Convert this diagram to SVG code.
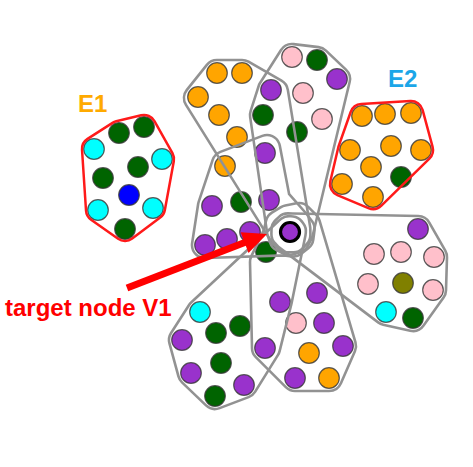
<svg xmlns="http://www.w3.org/2000/svg" width="473" height="467" viewBox="0 0 473 467">
<style>
.n{stroke:#333;stroke-opacity:.8;stroke-width:1.2}
.o{fill:#FFA500}.g{fill:#006400}.p{fill:#9932CC}.k{fill:#FFC0CB}.c{fill:#00FFFF}.b{fill:#0000FF}.l{fill:#808000}
.mo{fill:#fff;stroke:#fff;stroke-linejoin:round}
.mi{fill:#000;stroke:#000;stroke-linejoin:round}
.hg{fill:#929292}
.hr{fill:#ff1a1a}
.lbl{font-family:"Liberation Sans",Arial,sans-serif;font-weight:bold}
</style>
<defs>
<polygon id="pH1" points="217,73 242,73 275,92 297.3,228.8 297.4,234.9 293.2,239.3 287.1,239.4 282.7,235.2 197,98"/>
<polygon id="pH2" points="292,57 317,60 337,79 300,232.7 296.5,239.6 289.3,242 282.4,238.5 280,231.3 263,115 271,90"/>
<polygon id="pH3" points="225,164 267,148 277,200 296,221.6 301.6,228.9 300.4,238 293.1,243.6 284,242.4 205,245 211,206"/>
<polygon id="pH4" points="200,312 287.4,230.5 289.2,229.1 291.5,229.4 292.9,231.2 292.6,233.5 279,300 267,348 244,385 215,396 191,373 182,340"/>
<polygon id="pH6" points="307,224 343,346 329,378 295,378 265,348 263,262 276.2,234.2 278.7,223.8 287.8,218.2 299,216"/>
<polygon id="pH7" points="292.4,226.5 418,229 434,257 433,290 413,318 386,312 287.6,237.5 284.4,234.2 284.5,229.6 287.8,226.4"/>
<polygon id="pE1" points="144,127 162,159 153,208 125,229 98,210 94,149 119,133"/>
<polygon id="pE2" points="362,116 411,113 421,150 373,197 342,184 350,150"/>
<mask id="mH1" maskUnits="userSpaceOnUse" x="0" y="0" width="473" height="467"><use href="#pH1" class="mo" stroke-width="28.6"/><use href="#pH1" class="mi" stroke-width="23.4"/></mask>
<mask id="mH2" maskUnits="userSpaceOnUse" x="0" y="0" width="473" height="467"><use href="#pH2" class="mo" stroke-width="28.6"/><use href="#pH2" class="mi" stroke-width="23.4"/></mask>
<mask id="mH3" maskUnits="userSpaceOnUse" x="0" y="0" width="473" height="467"><use href="#pH3" class="mo" stroke-width="28.6"/><use href="#pH3" class="mi" stroke-width="23.4"/></mask>
<mask id="mH4" maskUnits="userSpaceOnUse" x="0" y="0" width="473" height="467"><use href="#pH4" class="mo" stroke-width="28.6"/><use href="#pH4" class="mi" stroke-width="23.4"/></mask>
<mask id="mH6" maskUnits="userSpaceOnUse" x="0" y="0" width="473" height="467"><use href="#pH6" class="mo" stroke-width="28.6"/><use href="#pH6" class="mi" stroke-width="23.4"/></mask>
<mask id="mH7" maskUnits="userSpaceOnUse" x="0" y="0" width="473" height="467"><use href="#pH7" class="mo" stroke-width="28.6"/><use href="#pH7" class="mi" stroke-width="23.4"/></mask>
<mask id="mE1" maskUnits="userSpaceOnUse" x="0" y="0" width="473" height="467"><use href="#pE1" class="mo" stroke-width="26.5"/><use href="#pE1" class="mi" stroke-width="21.5"/></mask>
<mask id="mE2" maskUnits="userSpaceOnUse" x="0" y="0" width="473" height="467"><use href="#pE2" class="mo" stroke-width="26.5"/><use href="#pE2" class="mi" stroke-width="21.5"/></mask>
</defs>
<rect width="473" height="467" fill="#fff"/>

<g id="nodes-E1">
<circle class="n g" cx="119" cy="133" r="10.3"/><circle class="n g" cx="144" cy="127" r="10.3"/>
<circle class="n c" cx="94" cy="149" r="10.3"/><circle class="n c" cx="162" cy="159" r="10.3"/>
<circle class="n g" cx="138" cy="167" r="10.3"/><circle class="n g" cx="103" cy="178" r="10.3"/>
<circle class="n b" cx="129" cy="195" r="10.3"/><circle class="n c" cx="98" cy="210" r="10.3"/>
<circle class="n c" cx="153" cy="208" r="10.3"/><circle class="n g" cx="125" cy="229" r="10.3"/>
</g>
<g id="nodes-E2">
<circle class="n o" cx="362" cy="116" r="10.3"/><circle class="n o" cx="385" cy="114" r="10.3"/>
<circle class="n o" cx="411" cy="113" r="10.3"/><circle class="n o" cx="350" cy="150" r="10.3"/>
<circle class="n o" cx="391" cy="146" r="10.3"/><circle class="n o" cx="421" cy="150" r="10.3"/>
<circle class="n o" cx="371" cy="167" r="10.3"/><circle class="n g" cx="401" cy="177" r="10.3"/>
<circle class="n o" cx="342" cy="184" r="10.3"/><circle class="n o" cx="373" cy="197" r="10.3"/>
</g>
<g id="nodes-top-left">
<circle class="n o" cx="217" cy="73" r="10.3"/><circle class="n o" cx="242" cy="73" r="10.3"/>
<circle class="n o" cx="198" cy="97" r="10.3"/><circle class="n o" cx="219" cy="115" r="10.3"/>
<circle class="n o" cx="237" cy="137" r="10.3"/>
</g>
<g id="nodes-top">
<circle class="n k" cx="292" cy="57" r="10.3"/><circle class="n g" cx="317" cy="60" r="10.3"/>
<circle class="n p" cx="337" cy="79" r="10.3"/><circle class="n k" cx="303" cy="93" r="10.3"/>
<circle class="n k" cx="322" cy="119" r="10.3"/><circle class="n g" cx="297" cy="132" r="10.3"/>
<circle class="n p" cx="271" cy="90" r="10.3"/><circle class="n g" cx="263" cy="115" r="10.3"/>
<circle class="n p" cx="265" cy="153" r="10.3"/>
</g>
<g id="nodes-left">
<circle class="n o" cx="225" cy="166" r="10.3"/><circle class="n p" cx="212" cy="206" r="10.3"/>
<circle class="n g" cx="241" cy="202" r="10.3"/><circle class="n p" cx="269" cy="200" r="10.3"/>
<circle class="n p" cx="205" cy="245" r="10.3"/><circle class="n p" cx="227" cy="239" r="10.3"/>
<circle class="n p" cx="250" cy="232" r="10.3"/><circle class="n g" cx="266" cy="252" r="10.3"/>
</g>
<g id="nodes-bottom-left">
<circle class="n c" cx="200" cy="312" r="10.3"/><circle class="n g" cx="240" cy="326" r="10.3"/>
<circle class="n g" cx="216" cy="333" r="10.3"/><circle class="n p" cx="182" cy="340" r="10.3"/>
<circle class="n p" cx="191" cy="373" r="10.3"/><circle class="n g" cx="221" cy="363" r="10.3"/>
<circle class="n p" cx="244" cy="385" r="10.3"/><circle class="n g" cx="215" cy="396" r="10.3"/>
</g>
<g id="nodes-bottom">
<circle class="n p" cx="280" cy="302" r="10.3"/><circle class="n p" cx="317" cy="293" r="10.3"/>
<circle class="n k" cx="296" cy="323" r="10.3"/><circle class="n p" cx="324" cy="323" r="10.3"/>
<circle class="n p" cx="265" cy="348" r="10.3"/><circle class="n o" cx="309" cy="353" r="10.3"/>
<circle class="n p" cx="343" cy="346" r="10.3"/><circle class="n p" cx="295" cy="378" r="10.3"/>
<circle class="n o" cx="329" cy="378" r="10.3"/>
</g>
<g id="nodes-right">
<circle class="n p" cx="418" cy="229" r="10.3"/><circle class="n k" cx="374" cy="254" r="10.3"/>
<circle class="n k" cx="401" cy="252" r="10.3"/><circle class="n k" cx="434" cy="257" r="10.3"/>
<circle class="n k" cx="368" cy="284" r="10.3"/><circle class="n l" cx="403" cy="283" r="10.3"/>
<circle class="n k" cx="433" cy="290" r="10.3"/><circle class="n c" cx="386" cy="312" r="10.3"/>
<circle class="n g" cx="413" cy="318" r="10.3"/>
</g>

<g id="hyperedges">
<rect class="hg" width="473" height="467" mask="url(#mH1)"/>
<rect class="hg" width="473" height="467" mask="url(#mH2)"/>
<rect class="hg" width="473" height="467" mask="url(#mH3)"/>
<rect class="hg" width="473" height="467" mask="url(#mH4)"/>
<rect class="hg" width="473" height="467" mask="url(#mH6)"/>
<rect class="hg" width="473" height="467" mask="url(#mH7)"/>
<rect class="hr" width="473" height="467" mask="url(#mE1)"/>
<rect class="hr" width="473" height="467" mask="url(#mE2)"/>
</g>

<g id="V1">
<circle cx="290" cy="232" r="9.5" fill="#9932CC" stroke="#000" stroke-width="3.2"/>
</g>

<g id="arrow">
<line x1="127" y1="288" x2="246" y2="242" stroke="#ff0000" stroke-width="7"/>
<polygon points="267,234 248.5,252.9 240.7,232.3" fill="#ff0000"/>
</g>

<g id="labels" class="lbl">
<text x="78" y="112" font-size="24" fill="#FFAA00">E1</text>
<text x="388" y="87" font-size="24" fill="#1CA6E8">E2</text>
<text x="5" y="316" font-size="24" fill="#ff0000">target node V1</text>
</g>
</svg>
